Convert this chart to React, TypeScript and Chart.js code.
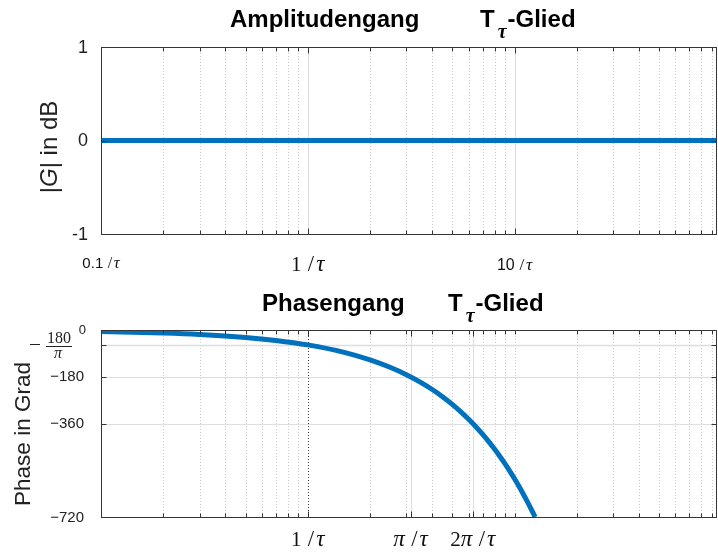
import React, { useEffect, useRef } from 'react';
import { Chart, registerables } from 'chart.js';

Chart.register(...registerables);

// ---------------- data ----------------
const xRange = [0.1, 94.25]; // 0.1/τ … 30π/τ
const magOmega = [0.1, 1, 10, 94.25];
const magDb = [0, 0, 0, 0];
const phaseOmega = [0.1, 0.2, 0.3, 0.5, 0.7, 1, 1.5, 2, 2.5, 3, 3.5, 4, 4.5, 5, 5.5, 6, 6.5, 7, 7.5, 8, 8.5, 9, 9.5, 10, 10.5, 11, 11.5, 12, 12.57];
const phaseDeg = [-5.7, -11.5, -17.2, -28.6, -40.1, -57.3, -85.9, -114.6, -143.2, -171.9, -200.5, -229.2, -257.8, -286.5, -315.1, -343.8, -372.4, -401.1, -429.7, -458.4, -487.0, -515.7, -544.3, -573.0, -601.6, -630.3, -658.9, -687.5, -720];
const magYRange = [-1, 1];
const magYTicks = [1, 0, -1];
const magYTickLabels = ['1', '0', '-1'];
const phaseYRange = [-720, 0];
const phaseYTicks = [0, -57.3, -180, -360, -720];
const phaseYTickLabels = ['0', '−180/π', '−180', '−360', '−720'];
const magXTicks = [0.1, 1, 10];
const magXTickLabels = ['0.1/τ', '1/τ', '10/τ'];
const phaseXTicks = [1, 3.1416, 6.2832];
const phaseXTickLabels = ['1/τ', 'π/τ', '2π/τ'];
const minorX = [0.2, 0.3, 0.4, 0.5, 0.6, 0.7, 0.8, 0.9, 2, 3, 4, 5, 6, 7, 8, 9, 20, 30, 40, 50, 60, 70, 80, 90];
const decadeX = [1, 10];
const magTitle = ['Amplitudengang', 'T', 'τ', '-Glied'];
const phaseTitle = ['Phasengang', 'T', 'τ', '-Glied'];
const magYTitle = ['|', 'G', '| in dB'];
const phaseYTitle = 'Phase in Grad';

// ---------------- styles ----------------
const BLUE = '#0072BD';
const AXIS = '#363636';
const GRID_MAJOR = '#dedede';
const GRID_MINOR = '#cdcdcd';
const SANS = '"Liberation Sans", Arial, sans-serif';
const SERIF = '"Liberation Serif", "Times New Roman", serif';

const P = (v: number) => Math.round(v) + 0.5;

function seg(ctx: CanvasRenderingContext2D, x1: number, y1: number, x2: number, y2: number, color: string, width: number, dash: number[] = []) {
  ctx.save();
  ctx.strokeStyle = color;
  ctx.lineWidth = width;
  ctx.setLineDash(dash);
  ctx.beginPath();
  ctx.moveTo(x1, y1);
  ctx.lineTo(x2, y2);
  ctx.stroke();
  ctx.restore();
}

function drawMath(ctx: CanvasRenderingContext2D, label: string, cx: number, baseline: number, size: number, digitFont: string) {
  const toks: { t: string; f: string; pre: number; post: number }[] = [];
  for (const ch of label) {
    const greek = ch === 'τ' || ch === 'π';
    if (ch === '/') toks.push({ t: '/', f: `${size * 1.08}px ${SERIF}`, pre: size * 0.3, post: size * 0.1 });
    else toks.push({ t: ch, f: greek ? `italic ${size * 1.1}px ${SERIF}` : `${size}px ${digitFont}`, pre: 0, post: 0 });
  }
  const ws = toks.map((k) => {
    ctx.font = k.f;
    return ctx.measureText(k.t).width;
  });
  let total = 0;
  toks.forEach((k, i) => { total += k.pre + ws[i] + k.post; });
  let x = cx - total / 2;
  ctx.save();
  ctx.fillStyle = '#111';
  ctx.textAlign = 'left';
  ctx.textBaseline = 'alphabetic';
  toks.forEach((k, i) => {
    x += k.pre;
    ctx.font = k.f;
    ctx.fillText(k.t, x, baseline);
    x += ws[i] + k.post;
  });
  ctx.restore();
}

function drawTitle(ctx: CanvasRenderingContext2D, parts: string[], mainX: number, tX: number, baseline: number, subOffset: number) {
  ctx.save();
  ctx.fillStyle = '#000';
  ctx.textAlign = 'left';
  ctx.textBaseline = 'alphabetic';
  ctx.font = `bold 24px ${SANS}`;
  ctx.fillText(parts[0], mainX, baseline);
  ctx.fillText(parts[1], tX, baseline);
  let x = tX + ctx.measureText(parts[1]).width + 3;
  ctx.font = `bold italic 20px ${SERIF}`;
  ctx.fillText(parts[2], x, baseline + subOffset);
  x += ctx.measureText(parts[2]).width + 1;
  ctx.font = `bold 24px ${SANS}`;
  ctx.fillText(parts[3], x, baseline);
  ctx.restore();
}

function drawYTitle(ctx: CanvasRenderingContext2D, parts: { t: string; f: string }[], cx: number, cy: number) {
  ctx.save();
  ctx.translate(cx, cy);
  ctx.rotate(-Math.PI / 2);
  ctx.fillStyle = '#222';
  ctx.textBaseline = 'middle';
  ctx.textAlign = 'left';
  const ws = parts.map((p) => { ctx.font = p.f; return ctx.measureText(p.t).width; });
  let x = -ws.reduce((a, b) => a + b, 0) / 2;
  parts.forEach((p, i) => { ctx.font = p.f; ctx.fillText(p.t, x, 0); x += ws[i]; });
  ctx.restore();
}

function drawBoxAndTicks(chart: any, majorX: number[], minorList: number[], yTicks: number[]) {
  const ctx: CanvasRenderingContext2D = chart.ctx;
  const a = chart.chartArea;
  const xs = chart.scales.x;
  const ys = chart.scales.y;
  const L = P(a.left), R = P(a.right), T = P(a.top), B = P(a.bottom);
  minorList.forEach((v) => {
    const x = P(xs.getPixelForValue(v));
    seg(ctx, x, B, x, B - 4, AXIS, 1);
    seg(ctx, x, T, x, T + 4, AXIS, 1);
  });
  majorX.forEach((v) => {
    const x = P(xs.getPixelForValue(v));
    seg(ctx, x, B, x, B - 6, AXIS, 1);
    seg(ctx, x, T, x, T + 6, AXIS, 1);
  });
  yTicks.forEach((v) => {
    const y = P(ys.getPixelForValue(v));
    seg(ctx, L, y, L + 5, y, AXIS, 1);
    seg(ctx, R, y, R - 5, y, AXIS, 1);
  });
  ctx.save();
  ctx.strokeStyle = AXIS;
  ctx.lineWidth = 1;
  ctx.strokeRect(L, T, R - L, B - T);
  ctx.restore();
}

const magDecor = {
  id: 'magDecor',
  beforeDatasetsDraw(chart: any) {
    const ctx: CanvasRenderingContext2D = chart.ctx;
    const a = chart.chartArea;
    const xs = chart.scales.x;
    minorX.forEach((v) => {
      const x = P(xs.getPixelForValue(v));
      seg(ctx, x, a.top, x, a.bottom, GRID_MINOR, 1, [1, 2]);
    });
    decadeX.forEach((v) => {
      const x = P(xs.getPixelForValue(v));
      seg(ctx, x, a.top, x, a.bottom, GRID_MAJOR, 1);
    });
  },
  afterDatasetsDraw(chart: any) {
    const ctx: CanvasRenderingContext2D = chart.ctx;
    const xs = chart.scales.x;
    const ys = chart.scales.y;
    drawBoxAndTicks(chart, magXTicks, minorX, magYTicks);
    ctx.save();
    ctx.fillStyle = '#222';
    ctx.font = `18px ${SANS}`;
    ctx.textAlign = 'right';
    ctx.textBaseline = 'middle';
    magYTicks.forEach((v, i) => ctx.fillText(magYTickLabels[i], 88, ys.getPixelForValue(v) + 1));
    ctx.restore();
    const sizes = [15, 21, 16];
    const bases = [268, 271, 270];
    magXTicks.forEach((v, i) => {
      drawMath(ctx, magXTickLabels[i], xs.getPixelForValue(v), bases[i], sizes[i], i === 1 ? SERIF : SANS);
    });
    drawTitle(ctx, magTitle, 230, 480, 27, 11);
    drawYTitle(ctx, [
      { t: magYTitle[0], f: `24px ${SANS}` },
      { t: magYTitle[1], f: `italic 24px ${SANS}` },
      { t: magYTitle[2], f: `24px ${SANS}` },
    ], 50, 147);
  },
};

const OFF = 276;
const phaseDecor = {
  id: 'phaseDecor',
  beforeDatasetsDraw(chart: any) {
    const ctx: CanvasRenderingContext2D = chart.ctx;
    const a = chart.chartArea;
    const xs = chart.scales.x;
    const ys = chart.scales.y;
    phaseYTicks.forEach((v) => {
      const y = P(ys.getPixelForValue(v));
      seg(ctx, a.left, y, a.right, y, GRID_MAJOR, v === -57.3 ? 1.6 : 1);
    });
    minorX.concat([10]).forEach((v) => {
      const x = P(xs.getPixelForValue(v));
      seg(ctx, x, a.top, x, a.bottom, GRID_MINOR, 1, [1, 2]);
    });
    phaseXTicks.forEach((v, i) => {
      const x = P(xs.getPixelForValue(v));
      if (i === 0) seg(ctx, x, a.top, x, a.bottom, '#3a3a3a', 1, [1, 2]);
      else seg(ctx, x, a.top, x, a.bottom, GRID_MAJOR, 1);
    });
  },
  afterDatasetsDraw(chart: any) {
    const ctx: CanvasRenderingContext2D = chart.ctx;
    const xs = chart.scales.x;
    const ys = chart.scales.y;
    drawBoxAndTicks(chart, phaseXTicks, minorX.concat([10]), phaseYTicks);
    ctx.save();
    ctx.fillStyle = '#222';
    ctx.textAlign = 'right';
    ctx.textBaseline = 'middle';
    phaseYTicks.forEach((v, i) => {
      const y = ys.getPixelForValue(v);
      const lab = phaseYTickLabels[i];
      if (lab.includes('/π')) {
        const num = lab.slice(1, lab.indexOf('/'));
        seg(ctx, 30, P(y - 1), 40, P(y - 1), '#222', 1);
        seg(ctx, 46, P(y + 1), 72, P(y + 1), '#222', 1);
        ctx.save();
        ctx.textAlign = 'center';
        ctx.textBaseline = 'alphabetic';
        ctx.font = `16px ${SERIF}`;
        ctx.fillText(num, 59, y - 2);
        ctx.font = `italic 16px ${SERIF}`;
        ctx.fillText('π', 58, y + 13);
        ctx.restore();
      } else if (v === 0) {
        ctx.font = `13px ${SANS}`;
        ctx.fillText(lab, 86, y);
      } else {
        ctx.font = `15px ${SANS}`;
        ctx.fillText(lab, 84, y + 0.5);
      }
    });
    ctx.restore();
    phaseXTicks.forEach((v, i) => {
      drawMath(ctx, phaseXTickLabels[i], xs.getPixelForValue(v), 546 - OFF, 21, SERIF);
    });
    drawTitle(ctx, phaseTitle, 262, 448, 311 - OFF, 11);
    drawYTitle(ctx, [{ t: phaseYTitle, f: `22.5px ${SANS}` }], 24, 434 - OFF);
  },
};

export default function App() {
  const topRef = useRef<HTMLCanvasElement>(null);
  const botRef = useRef<HTMLCanvasElement>(null);

  useEffect(() => {
    const common = (yMin: number, yMax: number, pad: any) => ({
      responsive: false,
      animation: false as const,
      devicePixelRatio: 1,
      events: [] as any[],
      layout: { padding: pad },
      plugins: { legend: { display: false }, tooltip: { enabled: false }, title: { display: false } },
      scales: {
        x: { type: 'logarithmic' as const, min: xRange[0], max: xRange[1], display: false },
        y: { type: 'linear' as const, min: yMin, max: yMax, display: false },
      },
    });
    const c1 = new Chart(topRef.current!, {
      type: 'line',
      data: {
        datasets: [{
          data: magOmega.map((x, i) => ({ x, y: magDb[i] })),
          borderColor: BLUE,
          borderWidth: 5,
          pointRadius: 0,
          clip: 0,
        } as any],
      },
      options: common(magYRange[0], magYRange[1], { left: 101, right: 2, top: 47, bottom: 42 }) as any,
      plugins: [magDecor],
    });
    const c2 = new Chart(botRef.current!, {
      type: 'line',
      data: {
        datasets: [{
          data: phaseOmega.map((x, i) => ({ x, y: phaseDeg[i] })),
          borderColor: BLUE,
          borderWidth: 5,
          pointRadius: 0,
          cubicInterpolationMode: 'monotone',
          clip: 0,
        } as any],
      },
      options: common(phaseYRange[0], phaseYRange[1], { left: 101, right: 2, top: 330 - OFF, bottom: 553 - 517 }) as any,
      plugins: [phaseDecor],
    });
    return () => {
      c1.destroy();
      c2.destroy();
    };
  }, []);

  return (
    <div style={{ position: 'fixed', left: 0, top: 0, width: 718, height: 553, background: '#fff' }}>
      <canvas ref={topRef} width={718} height={276} style={{ position: 'absolute', left: 0, top: 0, width: 718, height: 276 }} />
      <canvas ref={botRef} width={718} height={277} style={{ position: 'absolute', left: 0, top: OFF, width: 718, height: 277 }} />
    </div>
  );
}
